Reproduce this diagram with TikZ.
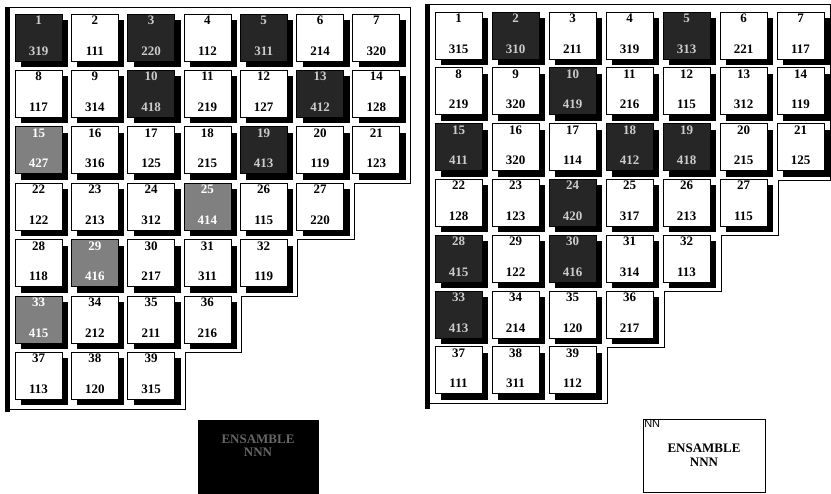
\documentclass[tikz,border=0pt]{standalone}
\usepackage{fontspec}
\setmainfont{Liberation Serif}
\newfontfamily\legsans{Liberation Sans}
\usetikzlibrary{shadows}

\begin{document}
\begin{tikzpicture}[x=1pt,y=-1pt,
    celda/.style={draw, line width=0.7pt, minimum size=47pt, inner sep=0pt,
      drop shadow={shadow xshift=6pt, shadow yshift=-6pt, opacity=1, fill=black}},
    fondo w/.style={fill=white},
    fondo d/.style={fill=black!85},
    fondo l/.style={fill=black!50},
    tinta w/.style={text=black},
    tinta d/.style={text=white!80!black},
    tinta l/.style={text=white},
    num/.style={font=\fontsize{13}{13}\selectfont\bfseries, anchor=north, inner sep=1pt, yshift=-1pt},
    val/.style={font=\fontsize{13}{13}\selectfont\bfseries, anchor=south, inner sep=1pt, yshift=5pt},
    leyenda/.style={draw, line width=0.8pt, minimum width=122pt, minimum height=73pt}]
    \useasboundingbox (0,0) rectangle (831,494);
    % left set
    \fill (5,7) rectangle (10,412);
    \draw[line width=0.6pt] (8,7) -- (410,7) -- (410,183) -- (354,183) -- (354,239) -- (297,239)
        -- (297,296) -- (241,296) -- (241,352) -- (185,352) -- (185,409) -- (8,409);
    \foreach \n/\c/\r/\v/\s in {1/0/0/319/d, 2/1/0/111/w, 3/2/0/220/d, 4/3/0/112/w, 5/4/0/311/d, 6/5/0/214/w, 7/6/0/320/w,
        8/0/1/117/w, 9/1/1/314/w, 10/2/1/418/d, 11/3/1/219/w, 12/4/1/127/w, 13/5/1/412/d, 14/6/1/128/w,
        15/0/2/427/l, 16/1/2/316/w, 17/2/2/125/w, 18/3/2/215/w, 19/4/2/413/d, 20/5/2/119/w, 21/6/2/123/w,
        22/0/3/122/w, 23/1/3/213/w, 24/2/3/312/w, 25/3/3/414/l, 26/4/3/115/w, 27/5/3/220/w,
        28/0/4/118/w, 29/1/4/416/l, 30/2/4/217/w, 31/3/4/311/w, 32/4/4/119/w,
        33/0/5/415/l, 34/1/5/212/w, 35/2/5/211/w, 36/3/5/216/w,
        37/0/6/113/w, 38/1/6/120/w, 39/2/6/315/w} {
      \node[celda, fondo \s] (L\n) at ({38.5+56.3*\c},{37.5+56.4*\r}) {};
      \node[num, tinta \s] (L\n n) at (L\n.north) {\n};
      \node[val, tinta \s] (L\n v) at (L\n.south) {\v};
    }
    % right set
    \fill (425,4) rectangle (430,409);
    \draw[line width=0.6pt] (428,4) -- (830,4) -- (830,180) -- (778,180) -- (778,235) -- (721,235)
        -- (721,291) -- (664,291) -- (664,347) -- (607,347) -- (607,403) -- (428,403);
    \foreach \n/\c/\r/\v/\s in {1/0/0/315/w, 2/1/0/310/d, 3/2/0/211/w, 4/3/0/319/w, 5/4/0/313/d, 6/5/0/221/w, 7/6/0/117/w,
        8/0/1/219/w, 9/1/1/320/w, 10/2/1/419/d, 11/3/1/216/w, 12/4/1/115/w, 13/5/1/312/w, 14/6/1/119/w,
        15/0/2/411/d, 16/1/2/320/w, 17/2/2/114/w, 18/3/2/412/d, 19/4/2/418/d, 20/5/2/215/w, 21/6/2/125/w,
        22/0/3/128/w, 23/1/3/123/w, 24/2/3/420/d, 25/3/3/317/w, 26/4/3/213/w, 27/5/3/115/w,
        28/0/4/415/d, 29/1/4/122/w, 30/2/4/416/d, 31/3/4/314/w, 32/4/4/113/w,
        33/0/5/413/d, 34/1/5/214/w, 35/2/5/120/w, 36/3/5/217/w,
        37/0/6/111/w, 38/1/6/311/w, 39/2/6/112/w} {
      \node[celda, fondo \s] (R\n) at ({458.5+57*\c},{35.5+55.8*\r}) {};
      \node[num, tinta \s] (R\n n) at (R\n.north) {\n};
      \node[val, tinta \s] (R\n v) at (R\n.south) {\v};
    }
    % legends
    \node[leyenda, fill=black, minimum width=120pt, minimum height=76pt] (oscuro) at (258,458) {};
    \node[font=\fontsize{13}{13}\selectfont\bfseries, text=black!60, align=center] (oscurot) at (258,446) {ENSAMBLE\\NNN};
    \node[leyenda] (claro) at (704,455.5) {};
    \node[font=\legsans\fontsize{11}{11}\selectfont, anchor=north west, inner sep=1.5pt] (clarok) at (claro.north west) {NN};
    \node[font=\fontsize{13}{14}\selectfont\bfseries, align=center] (clarot) at (704,455) {ENSAMBLE\\NNN};
\end{tikzpicture}
\end{document}
